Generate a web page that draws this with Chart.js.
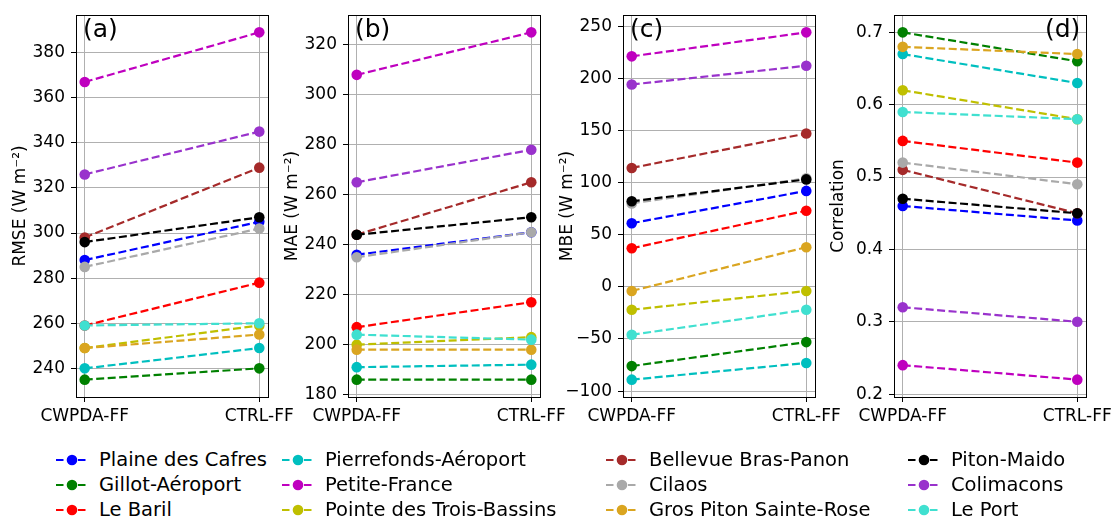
<!DOCTYPE html>
<html>
<head>
<meta charset="utf-8">
<script src="https://cdn.jsdelivr.net/npm/chart.js@4.4.0/dist/chart.umd.min.js"></script>
<style>
  body { margin: 0; width: 1112px; height: 520px; background: #fff; position: relative; overflow: hidden; font-family: "DejaVu Sans", sans-serif; }
  canvas { position: absolute; top: 0; }
  .tag { position: absolute; top: 16px; font-size: 25px; line-height: 1; color: #000; }
  .item { position: absolute; height: 24px; display: flex; align-items: center; font-size: 19.5px; white-space: nowrap; color: #000; }
  .item svg { margin-right: 11px; }
</style>
</head>
<body>
<canvas id="pa" width="302" height="440"></canvas>
<canvas id="pb" width="302" height="440"></canvas>
<canvas id="pc" width="302" height="440"></canvas>
<canvas id="pd" width="302" height="440"></canvas>
<div id="legend"></div>

<script>
// x categories
const categories = ['CWPDA-FF', 'CTRL-FF'];

const stations = ['Plaine des Cafres', 'Gillot-Aéroport', 'Le Baril', 'Pierrefonds-Aéroport',
  'Petite-France', 'Pointe des Trois-Bassins', 'Bellevue Bras-Panon', 'Cilaos',
  'Gros Piton Sainte-Rose', 'Piton-Maido', 'Colimacons', 'Le Port'];
const colors = ['#0000ff', '#008000', '#ff0000', '#00bfbf', '#bf00bf', '#bfbf00',
  '#a52a2a', '#a9a9a9', '#daa520', '#000000', '#9932cc', '#40e0d0'];

// values per station, same order as stations
const rmseCWPDA = [288, 235, 259, 240, 367, 249, 298, 285, 249, 296, 326, 259];
const rmseCTRL  = [305, 240, 278, 249, 389, 259, 329, 302, 255, 307, 345, 260];
const maeCWPDA  = [236, 186, 207, 191, 308, 200, 244, 235, 198, 244, 265, 204];
const maeCTRL   = [245, 186, 217, 192, 325, 203, 265, 245, 198, 251, 278, 202];
const mbeCWPDA  = [61, -76, 37, -89, 221, -22, 114, 80, -4, 82, 194, -46];
const mbeCTRL   = [92, -53, 73, -73, 244, -4, 147, 104, 38, 103, 212, -22];
const corrCWPDA = [0.46, 0.70, 0.55, 0.67, 0.24, 0.62, 0.51, 0.52, 0.68, 0.47, 0.32, 0.59];
const corrCTRL  = [0.44, 0.66, 0.52, 0.63, 0.22, 0.58, 0.45, 0.49, 0.67, 0.45, 0.30, 0.58];

// tick labels
const rmseTicks = [240, 260, 280, 300, 320, 340, 360, 380];
const maeTicks  = [180, 200, 220, 240, 260, 280, 300, 320];
const mbeTicks  = [-100, -50, 0, 50, 100, 150, 200, 250];
const corrTicks = [0.2, 0.3, 0.4, 0.5, 0.6, 0.7];

const FONT = 'DejaVu Sans';
const AXW = 70;

// black box around the plot area
const frame = {
  id: 'frame',
  afterDraw(chart) {
    const a = chart.chartArea, ctx = chart.ctx;
    ctx.save();
    ctx.strokeStyle = '#000';
    ctx.lineWidth = 1;
    ctx.strokeRect(Math.round(a.left) + 0.5, Math.round(a.top) + 0.5,
      Math.round(a.right - a.left), Math.round(a.bottom - a.top));
    ctx.restore();
  }
};

function makePanel(id, plotLeft, cwpda, ctrl, ticks, title, fmt, tag, tagRight) {
  const cv = document.getElementById(id);
  cv.style.left = (plotLeft - AXW) + 'px';

  const all = cwpda.concat(ctrl);
  const lo = Math.min(...all), hi = Math.max(...all), m = (hi - lo) * 0.05;

  new Chart(cv, {
    type: 'line',
    data: {
      datasets: stations.map((s, i) => ({
        label: s,
        data: [{x: 0, y: cwpda[i]}, {x: 1, y: ctrl[i]}],
        borderColor: colors[i],
        backgroundColor: colors[i],
        borderWidth: 2.2,
        borderDash: [8, 3.5],
        pointRadius: 5.3,
        pointBorderWidth: 0,
        pointBackgroundColor: colors[i],
        order: stations.length - 1 - i
      }))
    },
    options: {
      responsive: false,
      animation: false,
      devicePixelRatio: 1,
      layout: {padding: {left: 0, top: 15, right: 40, bottom: 0}},
      plugins: {legend: {display: false}, tooltip: {enabled: false}},
      scales: {
        x: {
          type: 'linear', min: -0.05, max: 1.05,
          afterBuildTicks: s => { s.ticks = [0, 1].map(v => ({value: v})); },
          afterFit: s => { s.height = 43; s.paddingLeft = 0; s.paddingRight = 0; },
          grid: {color: '#b0b0b0', lineWidth: 1, tickColor: '#000', tickLength: 5, tickWidth: 1},
          border: {display: false},
          ticks: {autoSkip: false, maxRotation: 0, padding: 4, color: '#000',
            font: {family: FONT, size: 17}, callback: v => categories[v]}
        },
        y: {
          min: lo - m, max: hi + m,
          afterBuildTicks: s => { s.ticks = ticks.map(v => ({value: v})); },
          afterFit: s => { s.width = AXW; s.paddingTop = 0; s.paddingBottom = 0; },
          grid: {color: '#b0b0b0', lineWidth: 1, tickColor: '#000', tickLength: 5, tickWidth: 1},
          border: {display: false},
          ticks: {autoSkip: false, padding: 6, color: '#000',
            font: {family: FONT, size: 17}, callback: fmt},
          title: {display: true, text: title, color: '#000', font: {family: FONT, size: 17}, padding: {top: 4, bottom: 0}}
        }
      }
    },
    plugins: [frame]
  });

  const t = document.createElement('div');
  t.className = 'tag';
  t.textContent = tag;
  if (tagRight) t.style.left = (plotLeft + 192 - 5 - 36) + 'px';
  else t.style.left = (plotLeft + 7) + 'px';
  document.body.appendChild(t);
}

const intFmt = v => String(v);
const minusFmt = v => (v < 0 ? '\u2212' + Math.abs(v) : String(v));
const decFmt = v => v.toFixed(1);

makePanel('pa', 76, rmseCWPDA, rmseCTRL, rmseTicks, 'RMSE (W m\u207B\u00B2)', intFmt, '(a)', false);
makePanel('pb', 348, maeCWPDA, maeCTRL, maeTicks, 'MAE (W m\u207B\u00B2)', intFmt, '(b)', false);
makePanel('pc', 623, mbeCWPDA, mbeCTRL, mbeTicks, 'MBE (W m\u207B\u00B2)', minusFmt, '(c)', false);
makePanel('pd', 894, corrCWPDA, corrCTRL, corrTicks, 'Correlation', decFmt, '(d)', true);

// legend, 4 columns x 3 rows, filled column by column
const colX = [56, 282, 606, 908];
const rowY = [459.5, 484.5, 509.5];
const legend = document.getElementById('legend');
stations.forEach((s, i) => {
  const col = Math.floor(i / 3), row = i % 3;
  const el = document.createElement('div');
  el.className = 'item';
  el.style.left = colX[col] + 'px';
  el.style.top = (rowY[row] - 12) + 'px';
  el.innerHTML = '<svg width="32" height="12"><line x1="0" y1="6" x2="32" y2="6" stroke="' + colors[i] +
    '" stroke-width="2.2" stroke-dasharray="7.5 3.5"/><circle cx="16" cy="6" r="5.3" fill="' + colors[i] + '"/></svg>';
  const span = document.createElement('span');
  span.textContent = s;
  el.appendChild(span);
  legend.appendChild(el);
});
</script>
</body>
</html>
